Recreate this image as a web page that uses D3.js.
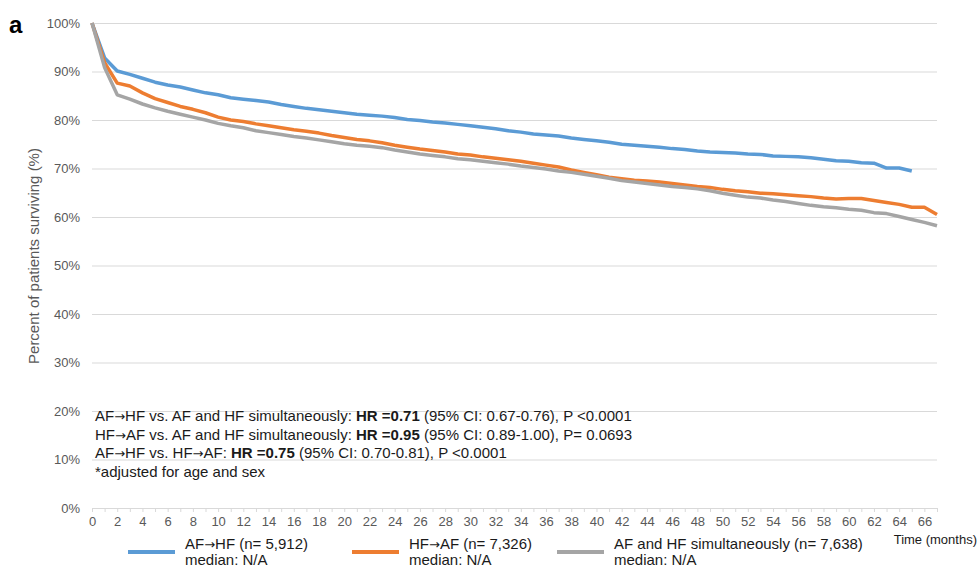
<!DOCTYPE html>
<html lang="en">
<head>
    <meta charset="UTF-8">
    <title>Survival curves</title>
    <script src="https://cdn.jsdelivr.net/npm/d3@7"></script>
    <style>
        body {
            margin: 0;
            background: #fff;
            font-family: "Liberation Sans", Arial, sans-serif;
        }

        .axis text {
            fill: #595959;
            font-size: 13px;
        }

        .note {
            fill: #1a1a1a;
            font-size: 15px;
        }

        .legend text {
            fill: #1a1a1a;
            font-size: 15px;
        }

        .arrow {
            font-family: "DejaVu Sans", sans-serif;
            font-size: 13px;
        }
    </style>
</head>
<body>
<div id="chart"></div>
<script>
// months on the x axis
let months = d3.range(0, 68)
let xTickLabels = d3.range(0, 67, 2)
let yTickLabels = [0, 10, 20, 30, 40, 50, 60, 70, 80, 90, 100]

// percent surviving, read month by month
let afHf = [100, 92.8, 90.1, 89.4, 88.6, 87.8, 87.2, 86.8, 86.2, 85.6,
    85.2, 84.6, 84.3, 84.0, 83.7, 83.2, 82.8, 82.4, 82.1, 81.8,
    81.5, 81.2, 81.0, 80.8, 80.5, 80.1, 79.9, 79.6, 79.4, 79.1,
    78.8, 78.5, 78.2, 77.8, 77.5, 77.1, 76.9, 76.7, 76.3, 76.0,
    75.7, 75.4, 75.0, 74.8, 74.6, 74.4, 74.1, 73.9, 73.6, 73.4,
    73.3, 73.2, 73.0, 72.9, 72.6, 72.5, 72.4, 72.2, 71.9, 71.6,
    71.5, 71.2, 71.1, 70.1, 70.1, 69.5]
let hfAf = [100, 91.8, 87.6, 87.0, 85.6, 84.4, 83.6, 82.8, 82.2, 81.5,
    80.6, 80.0, 79.7, 79.2, 78.8, 78.4, 78.0, 77.7, 77.3, 76.8,
    76.4, 76.0, 75.7, 75.3, 74.8, 74.4, 74.0, 73.7, 73.4, 73.0,
    72.8, 72.4, 72.1, 71.8, 71.5, 71.1, 70.7, 70.3, 69.7, 69.2,
    68.7, 68.2, 67.9, 67.6, 67.4, 67.2, 66.9, 66.6, 66.3, 66.1,
    65.7, 65.4, 65.2, 64.9, 64.8, 64.6, 64.4, 64.2, 63.9, 63.7,
    63.8, 63.8, 63.4, 63.0, 62.6, 62.0, 62.0, 60.5]
let simult = [100, 90.8, 85.2, 84.3, 83.3, 82.5, 81.8, 81.2, 80.6, 80.0,
    79.3, 78.8, 78.4, 77.8, 77.4, 77.0, 76.6, 76.3, 75.9, 75.5,
    75.1, 74.8, 74.6, 74.3, 73.8, 73.4, 73.0, 72.7, 72.4, 72.0,
    71.8, 71.5, 71.2, 70.9, 70.5, 70.2, 69.9, 69.5, 69.2, 68.8,
    68.4, 68.0, 67.5, 67.2, 66.9, 66.6, 66.3, 66.1, 65.8, 65.4,
    64.9, 64.5, 64.1, 63.9, 63.5, 63.2, 62.8, 62.4, 62.1, 61.9,
    61.6, 61.4, 60.9, 60.7, 60.1, 59.5, 58.9, 58.2]

let seriesNames = ['AF\u2192HF (n= 5,912)', 'HF\u2192AF (n= 7,326)', 'AF and HF simultaneously (n= 7,638)']
let seriesColors = ['#5b9bd5', '#ed7d31', '#a5a5a5']
let seriesValues = [afHf, hfAf, simult]

let width = 979
let height = 568

let svg = d3.select('#chart').append('svg')
    .attr('width', width)
    .attr('height', height)

let x = d3.scaleLinear().domain([0, 67]).range([92, 937])
let y = d3.scaleLinear().domain([0, 100]).range([508, 23])

// put a string into a text node, the arrows drawn in a font that has a proper one
function addText(node, str) {
    str.split('\u2192').forEach((part, i) => {
        if (i > 0) node.append('tspan').attr('class', 'arrow').text('\u2192')
        node.append('tspan').text(part)
    })
}

// gridlines
svg.append('g')
    .attr('transform', 'translate(92,0)')
    .call(d3.axisLeft(y).tickValues(yTickLabels.slice(1)).tickSize(-(937 - 92)).tickFormat(''))
    .call(g => g.select('.domain').remove())
    .call(g => g.selectAll('line').attr('stroke', '#d9d9d9'))

// y labels
svg.append('g')
    .attr('class', 'axis')
    .attr('transform', 'translate(92,0)')
    .call(d3.axisLeft(y).tickValues(yTickLabels).tickSize(0).tickPadding(12).tickFormat(d => d + '%'))
    .call(g => g.select('.domain').remove())
    .call(g => g.selectAll('text').attr('font-family', null))

// x minor ticks + axis line
svg.append('g')
    .attr('transform', 'translate(0,508)')
    .call(d3.axisBottom(x).tickValues(months).tickSize(4).tickSizeOuter(0).tickFormat(''))
    .call(g => g.selectAll('line, path').attr('stroke', '#d9d9d9'))

// x labels
svg.append('g')
    .attr('class', 'axis')
    .attr('transform', 'translate(0,508)')
    .call(d3.axisBottom(x).tickValues(xTickLabels).tickSize(0).tickPadding(9))
    .call(g => g.select('.domain').remove())
    .call(g => g.selectAll('text').attr('font-family', null))

// the curves
let line = d3.line()
    .x((d, i) => x(i))
    .y(d => y(d))

svg.append('g').selectAll('path')
    .data(seriesValues)
    .enter()
    .append('path')
    .attr('d', d => line(d))
    .attr('fill', 'none')
    .attr('stroke', (d, i) => seriesColors[i])
    .attr('stroke-width', 3.5)
    .attr('stroke-linejoin', 'round')

// axis titles
svg.append('text')
    .attr('transform', 'translate(39,256) rotate(-90)')
    .attr('text-anchor', 'middle')
    .attr('fill', '#595959')
    .attr('font-size', 15)
    .text('Percent of patients surviving (%)')

svg.append('text')
    .attr('x', 977)
    .attr('y', 544)
    .attr('text-anchor', 'end')
    .attr('fill', '#1a1a1a')
    .attr('font-size', 13)
    .text('Time (months)')

svg.append('text')
    .attr('x', 9)
    .attr('y', 33)
    .attr('font-size', 24)
    .attr('font-weight', 'bold')
    .text('a')

// hazard ratio notes
let notes = [
    ['AF\u2192HF vs. AF and HF simultaneously: ', 'HR =0.71', ' (95% CI: 0.67-0.76), P <0.0001'],
    ['HF\u2192AF vs. AF and HF simultaneously: ', 'HR =0.95', ' (95% CI: 0.89-1.00), P= 0.0693'],
    ['AF\u2192HF vs. HF\u2192AF: ', 'HR =0.75', ' (95% CI: 0.70-0.81), P <0.0001'],
    ['*adjusted for age and sex', '', '']
]
notes.forEach((n, i) => {
    let t = svg.append('text')
        .attr('class', 'note')
        .attr('x', 95)
        .attr('y', 421 + i * 18.7)
    addText(t, n[0])
    t.append('tspan').attr('font-weight', 'bold').text(n[1])
    t.append('tspan').text(n[2])
})

// legend
let legendX = [128, 352, 557]
let legend = svg.append('g').attr('class', 'legend')
seriesNames.forEach((name, i) => {
    legend.append('line')
        .attr('x1', legendX[i])
        .attr('x2', legendX[i] + 47)
        .attr('y1', 552)
        .attr('y2', 552)
        .attr('stroke', seriesColors[i])
        .attr('stroke-width', 4)
    let t = legend.append('text')
        .attr('x', legendX[i] + 57)
        .attr('y', 549)
    addText(t, name)
    legend.append('text')
        .attr('x', legendX[i] + 57)
        .attr('y', 565)
        .text('median: N/A')
})
</script>
</body>
</html>
